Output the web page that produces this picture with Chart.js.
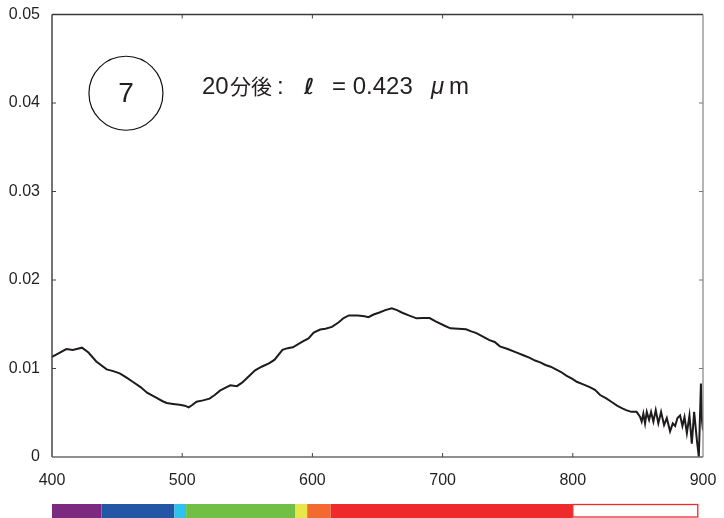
<!DOCTYPE html>
<html><head><meta charset="utf-8">
<script src="https://cdn.jsdelivr.net/npm/chart.js@4.4.1/dist/chart.umd.min.js"></script>
<style>html,body{margin:0;padding:0;background:#fff;}#wrap{width:724px;height:518px;}</style>
</head><body><div id="wrap"><canvas id="c" width="724" height="518"></canvas></div>
<script>
const wavelength = [400,405,411,416,423,428,434,442,447,452,457,462,468,473,480,485,488,493,498,502,505,508,511,516,521,525,529,533,537,542,546,551,556,561,567,571,577,581,585,592,597,601,606,610,615,620,624,628,635,640,643,647,651,656,661,665,669,674,680,685,690,695,702,706,712,718,722,726,731,736,740,744,750,757,762,767,771,775,779,783,787,791,795,800,803,808,813,817,821,826,829,834,838,841,845,849,851.6,852.9,854.2,855.5,856.8,858.6,860.1,861.9,863.7,865.7,867.8,870.1,872.2,874.7,876.8,878.6,880.4,882.4,884.2,885.8,887.6,889.6,891.4,893.2,895.3,896.8,898.4,899.3,900];
const absorbance = [0.0113,0.0117,0.0122,0.0121,0.01235,0.0118,0.0108,0.0099,0.0097,0.00945,0.0090,0.0085,0.0079,0.00727,0.0067,0.0063,0.0061,0.0060,0.0059,0.0058,0.0056,0.0059,0.00625,0.0064,0.0066,0.0070,0.0075,0.0078,0.0081,0.0080,0.0084,0.0091,0.0098,0.0102,0.0106,0.0110,0.0121,0.0123,0.0124,0.0130,0.0134,0.01405,0.0144,0.0145,0.0147,0.0152,0.0157,0.0160,0.0160,0.0159,0.0158,0.0161,0.0163,0.0166,0.0168,0.0166,0.0163,0.0160,0.01567,0.0157,0.0157,0.0153,0.0148,0.01454,0.0145,0.01443,0.0142,0.0140,0.0136,0.0132,0.0130,0.0125,0.0122,0.0118,0.0115,0.0112,0.0109,0.0107,0.0104,0.0102,0.0099,0.0096,0.0092,0.0088,0.0085,0.0082,0.0079,0.0076,0.0070,0.0066,0.0063,0.0058,0.0055,0.0053,0.0051,0.0051,0.00455,0.0040,0.0049,0.0038,0.0051,0.0042,0.0051,0.0040,0.0053,0.0038,0.0051,0.0036,0.0044,0.0029,0.0038,0.0035,0.0044,0.0047,0.0035,0.0045,0.0027,0.0047,0.0015,0.0051,0.0019,0.0000,0.0083,0.0040,0.0030];
const xTicks = [400,500,600,700,800,900];
const xTickLabels = ['400','500','600','700','800','900'];
const yTicks = [0,0.01,0.02,0.03,0.04,0.05];
const yTickLabels = ['0','0.01','0.02','0.03','0.04','0.05'];
const bandEdges = [400,438,494,503,587,596,614,800,896];
const bandColors = ['#7b2a80','#2356a4','#2ec2ef','#71bf45','#e9e64c','#f26a2f','#ee2a2b','#ffffff'];
const sampleNumber = '7';
const captionParts = ['20','分後',':','ℓ','= 0.423','μ','m'];

const txt = '#231f20';

const frame = {
  id:'frame',
  afterDraw(chart){
    const {ctx, chartArea:a, scales:{x,y}} = chart;
    ctx.save();
    ctx.lineWidth = 1.3;
    const line=(x1,y1,x2,y2,c)=>{ctx.strokeStyle=c;ctx.beginPath();ctx.moveTo(x1,y1);ctx.lineTo(x2,y2);ctx.stroke();};
    line(a.left,a.top,a.right,a.top,'#3a3a3a');
    line(a.left,a.top,a.left,a.bottom,'#2a2a2a');
    line(a.right,a.top,a.right,a.bottom,'#8c8c8c');
    line(a.left,a.bottom,a.right,a.bottom,'#6a6a6a');
    const tl=4;
    ctx.lineWidth=1;
    xTicks.forEach(v=>{ if(v===400||v===900) return; const px=x.getPixelForValue(v);
      line(px,a.bottom,px,a.bottom-tl,'#444'); line(px,a.top,px,a.top+tl,'#444');});
    yTicks.forEach(v=>{ if(v===0||v===0.05) return; const py=y.getPixelForValue(v);
      line(a.left,py,a.left+tl,py,'#444'); line(a.right,py,a.right-tl,py,'#777');});
    // color bar
    const top=504, h=14;
    for(let i=0;i<bandColors.length;i++){
      const x1=x.getPixelForValue(bandEdges[i]), x2=x.getPixelForValue(bandEdges[i+1]);
      ctx.fillStyle=bandColors[i];
      ctx.fillRect(x1,top,x2-x1,h);
      if(bandColors[i]==='#ffffff'){ctx.strokeStyle='#ee2a2b';ctx.lineWidth=1.3;ctx.strokeRect(x1,top+0.5,x2-x1,h-1.5);}
    }
    // annotation
    const cx=x.getPixelForValue(456.8), cy=y.getPixelForValue(0.0411);
    ctx.strokeStyle='#111';ctx.lineWidth=1.2;
    ctx.beginPath();ctx.arc(cx,cy,37,0,Math.PI*2);ctx.stroke();
    ctx.fillStyle=txt;ctx.textAlign='center';ctx.textBaseline='middle';
    ctx.font='28px "Liberation Sans", Arial, sans-serif';
    ctx.fillText(sampleNumber,cx,cy+1);
    const tx=x.getPixelForValue(515.2), ty=y.getPixelForValue(0.0410);
    ctx.textAlign='left';ctx.textBaseline='alphabetic';
    const fonts=['24px "Liberation Sans", Arial','21px "Noto Sans CJK JP"','24px "Liberation Sans", Arial','bold 22px "DejaVu Sans"','24px "Liberation Sans", Arial','italic 24px "Liberation Sans", Arial','24px "Liberation Sans", Arial'];
    const offs=[0,28,75,102,130,229,247];
    captionParts.forEach((p,i)=>{ctx.font=fonts[i];ctx.fillText(p,tx+offs[i],ty);});
    ctx.restore();
  }
};

new Chart(document.getElementById('c'),{
  type:'line',
  data:{datasets:[{data:wavelength.map((w,i)=>({x:w,y:absorbance[i]})),borderColor:'#1f1b1c',borderWidth:2,pointRadius:0,tension:0,fill:false}]},
  options:{
    responsive:false,animation:false,
    layout:{padding:{left:0,right:21,top:14.5,bottom:0}},
    plugins:{legend:{display:false},tooltip:{enabled:false}},
    scales:{
      x:{type:'linear',min:400,max:900,
        afterBuildTicks:s=>{s.ticks=xTicks.map(v=>({value:v}));},
        afterFit:s=>{s.height=61;s.paddingLeft=0;s.paddingRight=0;},
        grid:{display:false,drawTicks:false},border:{display:false},
        ticks:{padding:14,color:txt,font:{family:'"Liberation Sans", Arial',size:16},maxRotation:0,callback:(v,i)=>xTickLabels[i]}},
      y:{type:'linear',min:0,max:0.05,
        afterBuildTicks:s=>{s.ticks=yTicks.map(v=>({value:v}));},
        afterFit:s=>{s.width=52;s.paddingTop=0;s.paddingBottom=0;},
        grid:{display:false,drawTicks:false},border:{display:false},
        ticks:{padding:12,color:txt,font:{family:'"Liberation Sans", Arial',size:16},callback:(v,i)=>yTickLabels[i]}}
    }
  },
  plugins:[frame]
});
</script></body></html>
